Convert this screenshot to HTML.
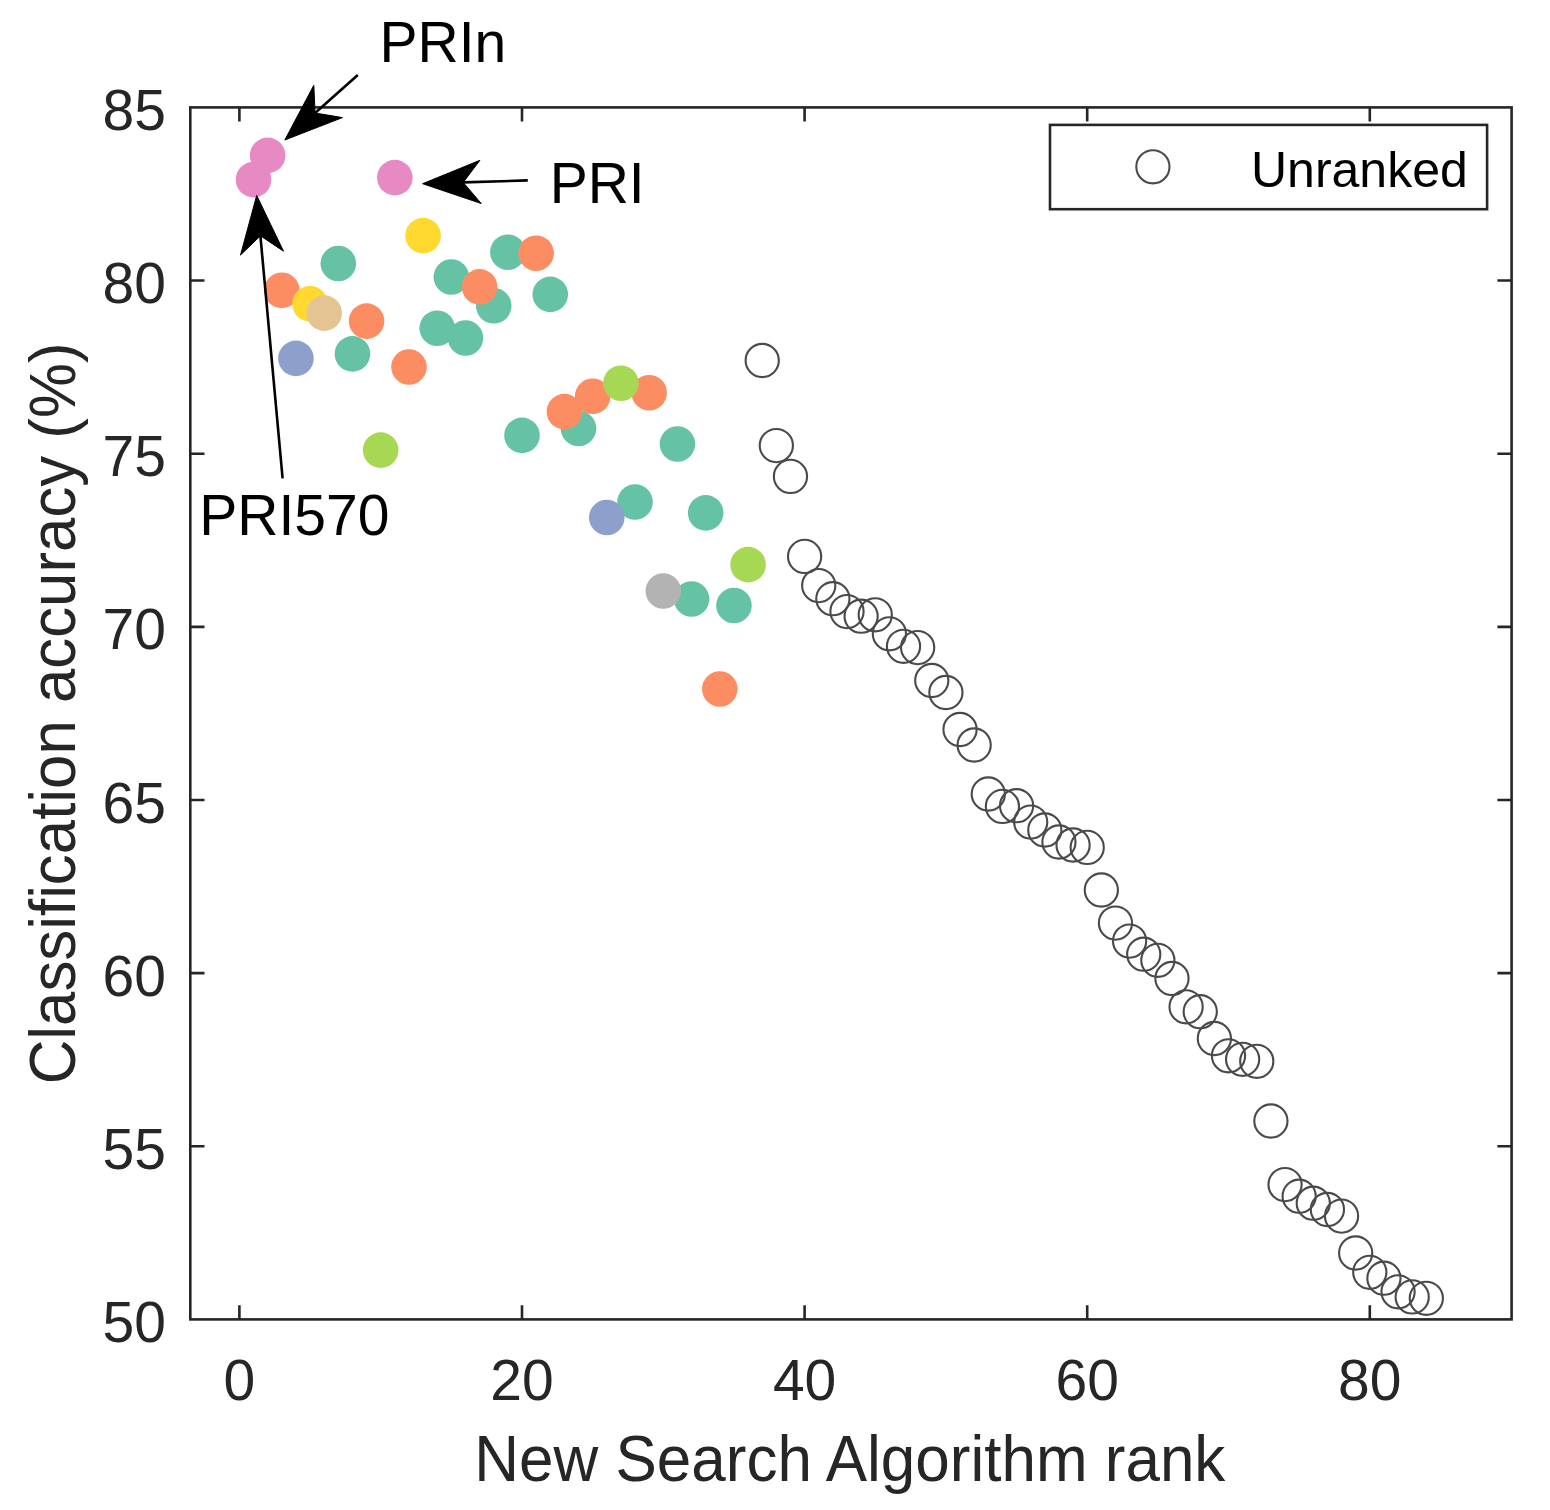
<!DOCTYPE html>
<html lang="en"><head><meta charset="utf-8"><title>Classification accuracy vs New Search Algorithm rank</title>
<style>html,body{margin:0;padding:0;background:#fff}svg{display:block}</style></head>
<body>
<svg width="1550" height="1510" viewBox="0 0 1550 1510" font-family='"Liberation Sans", Arial, Helvetica, sans-serif'>
<rect width="1550" height="1510" fill="#fff"/>
<g fill="none" stroke="#4a4a4a" stroke-width="2.1">
<circle cx="762.21" cy="360.5" r="16.6"/>
<circle cx="776.34" cy="445.6" r="16.6"/>
<circle cx="790.47" cy="476.4" r="16.6"/>
<circle cx="804.60" cy="556.4" r="16.6"/>
<circle cx="818.73" cy="585.6" r="16.6"/>
<circle cx="832.86" cy="598.7" r="16.6"/>
<circle cx="846.99" cy="611.6" r="16.6"/>
<circle cx="861.12" cy="616.2" r="16.6"/>
<circle cx="875.25" cy="614.8" r="16.6"/>
<circle cx="889.38" cy="633.8" r="16.6"/>
<circle cx="903.51" cy="646.3" r="16.6"/>
<circle cx="917.64" cy="647.6" r="16.6"/>
<circle cx="931.77" cy="680.5" r="16.6"/>
<circle cx="945.90" cy="692.5" r="16.6"/>
<circle cx="960.03" cy="729.5" r="16.6"/>
<circle cx="974.16" cy="745.0" r="16.6"/>
<circle cx="988.29" cy="794.0" r="16.6"/>
<circle cx="1002.42" cy="806.4" r="16.6"/>
<circle cx="1016.55" cy="805.7" r="16.6"/>
<circle cx="1030.68" cy="822.1" r="16.6"/>
<circle cx="1044.81" cy="830" r="16.6"/>
<circle cx="1058.94" cy="842" r="16.6"/>
<circle cx="1073.07" cy="845" r="16.6"/>
<circle cx="1087.20" cy="847.4" r="16.6"/>
<circle cx="1101.33" cy="890" r="16.6"/>
<circle cx="1115.46" cy="923.1" r="16.6"/>
<circle cx="1129.59" cy="941.1" r="16.6"/>
<circle cx="1143.72" cy="954.2" r="16.6"/>
<circle cx="1157.85" cy="960.3" r="16.6"/>
<circle cx="1171.98" cy="978.5" r="16.6"/>
<circle cx="1186.11" cy="1006.8" r="16.6"/>
<circle cx="1200.24" cy="1011.7" r="16.6"/>
<circle cx="1214.37" cy="1038.5" r="16.6"/>
<circle cx="1228.50" cy="1055.8" r="16.6"/>
<circle cx="1242.63" cy="1059.3" r="16.6"/>
<circle cx="1256.76" cy="1061.3" r="16.6"/>
<circle cx="1270.89" cy="1121" r="16.6"/>
<circle cx="1285.02" cy="1184.6" r="16.6"/>
<circle cx="1299.15" cy="1196.2" r="16.6"/>
<circle cx="1313.28" cy="1203.2" r="16.6"/>
<circle cx="1327.41" cy="1209.5" r="16.6"/>
<circle cx="1341.54" cy="1216.1" r="16.6"/>
<circle cx="1355.67" cy="1253" r="16.6"/>
<circle cx="1369.80" cy="1272.3" r="16.6"/>
<circle cx="1383.93" cy="1278.2" r="16.6"/>
<circle cx="1398.06" cy="1291.8" r="16.6"/>
<circle cx="1412.19" cy="1296.9" r="16.6"/>
<circle cx="1426.32" cy="1298.3" r="16.6"/>
</g>
<g fill="#66c2a5">
<circle cx="338.31" cy="263.5" r="17.8"/>
<circle cx="352.44" cy="353.9" r="17.8"/>
<circle cx="437.22" cy="328.2" r="17.8"/>
<circle cx="451.35" cy="277" r="17.8"/>
<circle cx="465.48" cy="338" r="17.8"/>
<circle cx="493.74" cy="305.8" r="17.8"/>
<circle cx="507.87" cy="252.2" r="17.8"/>
<circle cx="522.00" cy="435.4" r="17.8"/>
<circle cx="550.26" cy="294.4" r="17.8"/>
<circle cx="578.52" cy="428.5" r="17.8"/>
<circle cx="635.04" cy="502" r="17.8"/>
<circle cx="677.43" cy="444" r="17.8"/>
<circle cx="691.56" cy="599" r="17.8"/>
<circle cx="705.69" cy="512.9" r="17.8"/>
<circle cx="733.95" cy="605.5" r="17.8"/>
</g>
<g fill="#fc8d62">
<circle cx="281.79" cy="290.3" r="17.8"/>
<circle cx="366.57" cy="321.1" r="17.8"/>
<circle cx="408.96" cy="367" r="17.8"/>
<circle cx="479.61" cy="286.9" r="17.8"/>
<circle cx="536.13" cy="253.2" r="17.8"/>
<circle cx="564.39" cy="411.6" r="17.8"/>
<circle cx="592.65" cy="396.3" r="17.8"/>
<circle cx="649.17" cy="392.7" r="17.8"/>
<circle cx="719.82" cy="689" r="17.8"/>
</g>
<g fill="#8da0cb">
<circle cx="295.92" cy="358.4" r="17.8"/>
<circle cx="606.78" cy="517.5" r="17.8"/>
</g>
<g fill="#e78ac3">
<circle cx="253.53" cy="179.6" r="17.8"/>
<circle cx="267.66" cy="155.4" r="17.8"/>
<circle cx="394.83" cy="177.6" r="17.8"/>
</g>
<g fill="#a6d854">
<circle cx="380.70" cy="450.1" r="17.8"/>
<circle cx="620.91" cy="383.2" r="17.8"/>
<circle cx="748.08" cy="564.6" r="17.8"/>
</g>
<g fill="#ffd92f">
<circle cx="310.05" cy="303.8" r="17.8"/>
<circle cx="423.09" cy="235.6" r="17.8"/>
</g>
<g fill="#e5c494">
<circle cx="324.18" cy="313.1" r="17.8"/>
</g>
<g fill="#b3b3b3">
<circle cx="663.30" cy="591" r="17.8"/>
</g>
<g stroke="#262626" stroke-width="2.6" fill="none">
<rect x="190.3" y="107.4" width="1321.3" height="1212.0"/>
<path d="M239.40 1319.4v-14.2M239.40 107.4v14.2"/>
<path d="M522.00 1319.4v-14.2M522.00 107.4v14.2"/>
<path d="M804.60 1319.4v-14.2M804.60 107.4v14.2"/>
<path d="M1087.20 1319.4v-14.2M1087.20 107.4v14.2"/>
<path d="M1369.80 1319.4v-14.2M1369.80 107.4v14.2"/>
<path d="M190.3 1146.26h14.2M1511.6 1146.26h-14.2"/>
<path d="M190.3 973.11h14.2M1511.6 973.11h-14.2"/>
<path d="M190.3 799.97h14.2M1511.6 799.97h-14.2"/>
<path d="M190.3 626.83h14.2M1511.6 626.83h-14.2"/>
<path d="M190.3 453.69h14.2M1511.6 453.69h-14.2"/>
<path d="M190.3 280.54h14.2M1511.6 280.54h-14.2"/>
</g>
<g fill="#262626" font-size="57">
<text x="239.40" y="1400" text-anchor="middle">0</text>
<text x="522.00" y="1400" text-anchor="middle">20</text>
<text x="804.60" y="1400" text-anchor="middle">40</text>
<text x="1087.20" y="1400" text-anchor="middle">60</text>
<text x="1369.80" y="1400" text-anchor="middle">80</text>
<text x="166" y="1342.00" text-anchor="end">50</text>
<text x="166" y="1168.86" text-anchor="end">55</text>
<text x="166" y="995.71" text-anchor="end">60</text>
<text x="166" y="822.57" text-anchor="end">65</text>
<text x="166" y="649.43" text-anchor="end">70</text>
<text x="166" y="476.29" text-anchor="end">75</text>
<text x="166" y="303.14" text-anchor="end">80</text>
<text x="166" y="130.00" text-anchor="end">85</text>
</g>
<g fill="#262626" font-size="62">
<text id="xl" transform="translate(849.8 1480.5) scale(1 1.055)" text-anchor="middle">New Search Algorithm rank</text>
<text id="yl" transform="translate(74.6 713.4) rotate(-90) scale(1 1.055)" text-anchor="middle" font-size="61.8">Classification accuracy (%)</text>
</g>
<rect x="1050" y="124.9" width="437.1" height="84.3" fill="#fff" stroke="#262626" stroke-width="2.6"/>
<circle cx="1152.9" cy="166.8" r="16.6" fill="none" stroke="#4a4a4a" stroke-width="2.1"/>
<text id="lg" x="1251" y="187.2" font-size="50" fill="#000">Unranked</text>
<path d="M260.4 235.8L282.6 478.3" stroke="#000" stroke-width="2.6" fill="none"/><path d="M256.7 195.4L240.5 255.1L260.4 235.8L283.5 251.2Z" fill="#000" stroke="#000" stroke-width="1" stroke-linejoin="miter"/>
<path d="M315.1 113.0L357.8 75.0" stroke="#000" stroke-width="2.6" fill="none"/><path d="M284.8 140.0L342.5 117.6L315.1 113.0L313.8 85.3Z" fill="#000" stroke="#000" stroke-width="1" stroke-linejoin="miter"/>
<path d="M463.2 182.4L527.8 180.4" stroke="#000" stroke-width="2.6" fill="none"/><path d="M422.6 183.7L481.2 203.5L463.2 182.4L479.9 160.3Z" fill="#000" stroke="#000" stroke-width="1" stroke-linejoin="miter"/>
<g fill="#000" font-size="57">
<text id="a1" x="379.5" y="61.7">PRIn</text>
<text id="a2" x="549.7" y="202.5">PRI</text>
<text id="a3" x="199.3" y="535.4">PRI570</text>
</g>
</svg>
</body></html>
